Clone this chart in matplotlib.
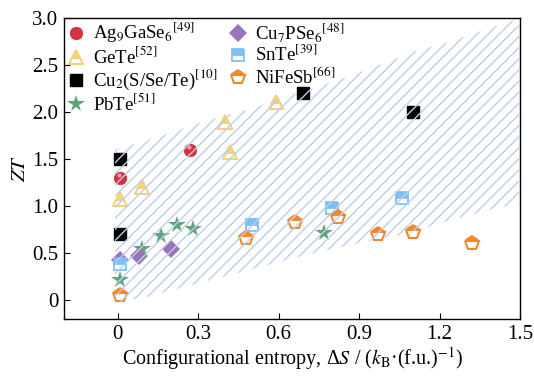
import numpy as np
import matplotlib.pyplot as plt

plt.rcParams['font.family'] = ['Liberation Serif', 'DejaVu Serif']
plt.rcParams['mathtext.fontset'] = 'stix'
plt.rcParams['hatch.linewidth'] = 1.0

# data
ag_x = [0.01, 0.27]
ag_y = [1.30, 1.60]
gete_x = [0.01, 0.09, 0.40, 0.42, 0.59]
gete_y = [1.08, 1.20, 1.90, 1.58, 2.11]
cu2_x = [0.01, 0.01, 0.69, 1.10]
cu2_y = [1.50, 0.70, 2.20, 2.00]
pbte_x = [0.01, 0.09, 0.16, 0.22, 0.28, 0.77]
pbte_y = [0.21, 0.55, 0.68, 0.80, 0.76, 0.72]
cu7_x = [0.01, 0.08, 0.20]
cu7_y = [0.43, 0.47, 0.55]
snte_x = [0.01, 0.50, 0.80, 1.06]
snte_y = [0.39, 0.80, 0.98, 1.09]
nifesb_x = [0.01, 0.48, 0.66, 0.82, 0.97, 1.10, 1.32]
nifesb_y = [0.06, 0.66, 0.83, 0.88, 0.70, 0.73, 0.61]

# shaded band
band_x = [-0.01, 0.13, 0.255, 0.38, 0.49, 0.675, 0.86, 1.01, 1.11, 1.225, 1.34, 1.45, 1.5]
band_up = [1.60, 1.72, 1.84, 1.95, 2.03, 2.21, 2.38, 2.54, 2.65, 2.74, 2.85, 2.95, 3.0]
band_lo_x = [-0.01, 0.11, 0.30, 0.49, 0.675, 0.86, 1.05, 1.24, 1.425, 1.5]
band_lo = [-0.03, 0.035, 0.18, 0.32, 0.46, 0.585, 0.69, 0.85, 0.99, 1.03]

fig = plt.figure(figsize=(5.34, 3.78), dpi=100)
ax = fig.add_axes([0.12, 0.156, 0.854, 0.796])

px = list(band_lo_x) + band_x[::-1]
py = list(band_lo) + band_up[::-1]
ax.fill(px, py, facecolor='none', edgecolor='#bccdee', linewidth=0,
        hatch='///', zorder=5)

ms = 9
ax.plot(ag_x, ag_y, 'o', color='#d9303e', ms=ms, mec='#c42a36', mew=0.5,
        ls='none', label='Ag$_9$GaSe$_6$$^{[49]}$', zorder=3)
ax.plot([x - 0.006 for x in ag_x], [y + 0.03 for y in ag_y], 'o', color='#f3a0a6',
        ms=3, mew=0, ls='none', zorder=3)
ax.plot(gete_x, gete_y, '^', ms=ms + 1, color='#f3d27c', mfc='#f3d27c', mfcalt='white',
        fillstyle='top', mew=1.5, ls='none', label='GeTe$^{[52]}$', zorder=3)
ax.plot(cu2_x, cu2_y, 's', ms=ms - 1, color='black', ls='none',
        label='Cu$_2$(S/Se/Te)$^{[10]}$', zorder=3)
ax.plot(pbte_x, pbte_y, '*', ms=ms + 4, color='#5ea57a', mew=0, ls='none',
        label='PbTe$^{[51]}$', zorder=3)
ax.plot(cu7_x, cu7_y, 'D', ms=ms, color='#9b73b7', mew=0, ls='none',
        label='Cu$_7$PSe$_6$$^{[48]}$', zorder=3)
ax.plot(snte_x, snte_y, 's', ms=ms - 1, color='#7cc0f2', mfc='#7cc0f2', mfcalt='white',
        fillstyle='top', mew=1.3, ls='none', label='SnTe$^{[39]}$', zorder=3)
ax.plot(nifesb_x, nifesb_y, 'p', ms=ms + 1, color='#f0892b', mfc='#f0892b', mfcalt='white',
        fillstyle='top', mew=1.5, ls='none', label='NiFeSb$^{[66]}$', zorder=3)

ax.set_xlim(-0.2, 1.5)
ax.set_ylim(-0.2, 3.0)
ax.set_xticks([0, 0.3, 0.6, 0.9, 1.2, 1.5])
ax.set_xticklabels(['0', '0.3', '0.6', '0.9', '1.2', '1.5'])
ax.set_yticks([0, 0.5, 1.0, 1.5, 2.0, 2.5, 3.0])
ax.set_yticklabels(['0', '0.5', '1.0', '1.5', '2.0', '2.5', '3.0'])
ax.tick_params(direction='in', labelsize=15, length=4, pad=4)
for s in ax.spines.values():
    s.set_linewidth(1.0)

ax.set_xlabel('Configurational entropy, Δ$S$ / ($k_\\mathrm{B}$·(f.u.)$^{-1}$)', fontsize=14.5,
              labelpad=1)
ax.set_ylabel('$ZT$', fontsize=15, labelpad=2)

ax.legend(ncol=2, loc='upper left', bbox_to_anchor=(0.0, 1.0), frameon=False,
          fontsize=13.5, handletextpad=0.4, columnspacing=0.6, labelspacing=0.05,
          borderaxespad=0.0, handlelength=1.0, borderpad=0.15)

fig.savefig('out.png', dpi=100)
